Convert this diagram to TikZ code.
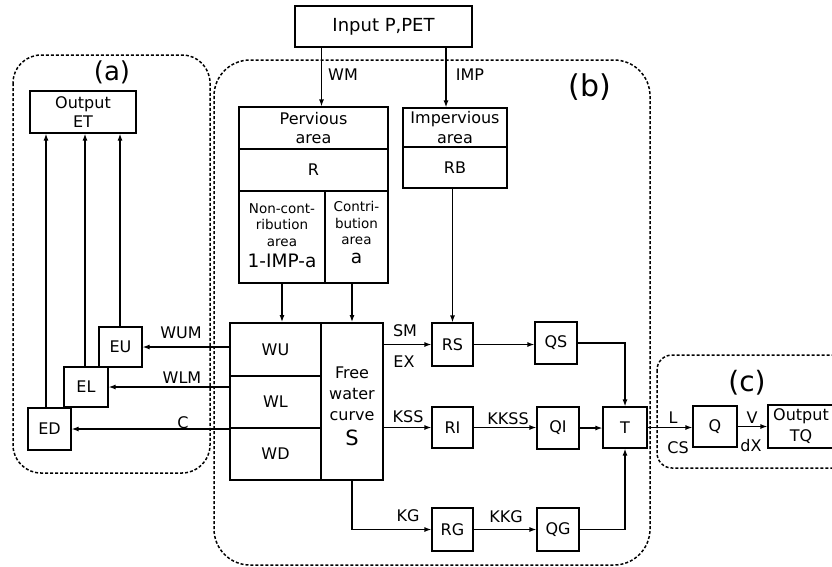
\documentclass[tikz,border=0pt]{standalone}
\usepackage{fontspec}
\setmainfont{DejaVu Sans}
\usetikzlibrary{arrows.meta,calc}
\newcommand\fsz[2]{\fontsize{#1}{#2}\selectfont}
\begin{document}
\begin{tikzpicture}[x=1pt,y=-1pt,
  box/.style={draw, line width=1.2pt, inner sep=0pt, align=center, font=\fsz{16}{19.5}},
  soil/.style={draw, line width=2pt, inner sep=0pt, align=center, font=\fsz{16}{19.5}},
  txt/.style={inner sep=0pt, align=center, font=\fsz{16}{19.5}},
  arr/.style={-{Latex[length=7pt,width=5pt]}, line width=1.2pt},
  grp/.style={draw, line width=1.5pt, dash pattern=on 3pt off 2pt}]
\clip (0,0) rectangle (832,566);
% group frames
\draw[grp, rounded corners=28pt] (13,55) rectangle (210,473);
\draw[grp, rounded corners=36pt] (214,60) rectangle (650,565);
\draw[grp, rounded corners=15pt] (657,355) rectangle (870,468);
\node[txt, font=\fsz{26}{26}] (la) at (112,72) {(a)};
\node[txt, font=\fsz{30}{30}] (lb) at (590,87) {(b)};
\node[txt, font=\fsz{28}{28}] (lc) at (747,383) {(c)};
% input
\node[box, minimum width=177pt, minimum height=41pt, font=\fsz{18}{22}] (inp) at (383.5,26.5) {Input P,PET};
% evaporation part
\node[box, minimum width=106pt, minimum height=42pt] (ET) at (83,112) {Output\\ET};
\node[box, minimum width=43pt, minimum height=40pt] (EU) at (120.5,347) {EU};
\node[box, minimum width=44pt, minimum height=40pt] (EL) at (86,387) {EL};
\node[box, minimum width=43pt, minimum height=42pt] (ED) at (49.5,429) {ED};
% pervious area
\node[box, minimum width=149pt, minimum height=42pt] (perv) at (313.5,128) {Pervious\\area};
\node[box, minimum width=149pt, minimum height=42pt] (R) at (313.5,170) {R};
\node[box, minimum width=86pt, minimum height=92pt] (NC) at (282,237) {};
\node[box, minimum width=63pt, minimum height=92pt] (CA) at (356.5,237) {};
\node[txt, font=\fsz{13.5}{16.5}] (NCt) at (282,225) {Non-cont-\\ribution\\area};
\node[txt, font=\fsz{18.5}{18.5}] (NCv) at (282,261) {1-IMP-a};
\node[txt, font=\fsz{13.5}{16.5}] (CAt) at (356.5,223) {Contri-\\bution\\area};
\node[txt, font=\fsz{18.5}{18.5}] (CAv) at (356.5,258) {a};
% impervious area
\node[box, minimum width=104pt, minimum height=39pt] (imp) at (455,127.5) {Impervious\\area};
\node[box, minimum width=104pt, minimum height=41pt] (RB) at (455,167.5) {RB};
% soil storages
\node[soil, minimum width=91pt, minimum height=53pt] (WU) at (275.5,349.5) {WU};
\node[soil, minimum width=91pt, minimum height=52pt] (WL) at (275.5,402) {WL};
\node[soil, minimum width=91pt, minimum height=52pt] (WD) at (275.5,454) {WD};
\node[soil, minimum width=62pt, minimum height=157pt] (FW) at (352,401.5) {};
\node[txt, font=\fsz{16}{21}] (FWt) at (352,394) {Free\\water\\curve};
\node[txt, font=\fsz{21}{21}] (FWs) at (352,438) {S};
% runoff routing
\node[box, minimum width=41pt, minimum height=43pt] (RS) at (452.5,344.5) {RS};
\node[box, minimum width=42pt, minimum height=42pt] (QS) at (556,343) {QS};
\node[box, minimum width=41pt, minimum height=41pt] (RI) at (452.5,427.5) {RI};
\node[box, minimum width=42pt, minimum height=42pt] (QI) at (558,428) {QI};
\node[box, minimum width=41pt, minimum height=43pt] (RG) at (452.5,529.5) {RG};
\node[box, minimum width=42pt, minimum height=43pt] (QG) at (558,529.5) {QG};
\node[box, minimum width=44pt, minimum height=41pt] (T) at (625,427.5) {T};
% channel routing
\node[box, minimum width=44pt, minimum height=41pt] (Q) at (715,426.5) {Q};
\node[box, minimum width=66pt, minimum height=43pt, font=\fsz{16}{21}] (TQ) at (801,426.5) {Output\\TQ};
% connectors
\draw[arr] ([xshift=-62pt]inp.south) -- ([xshift=-62pt]inp.south |- perv.north);
\draw[arr] ([xshift=62.5pt]inp.south) -- ([xshift=62.5pt]inp.south |- imp.north);
\node[txt] (tWM) at (343,75) {WM};
\node[txt] (tIMP) at (470,75) {IMP};
\draw[arr] (NC.south) -- (NC.south |- WU.north);
\draw[arr] (FW.north |- CA.south) -- (FW.north);
\draw[arr] (RS.north |- RB.south) -- (RS.north);
\draw[arr] (EU.east -| WU.west) -- (EU.east);
\draw[arr] (EL.east -| WL.west) -- (EL.east);
\draw[arr] (ED.east -| WD.west) -- (ED.east);
\node[txt] (tWUM) at (181,333) {WUM};
\node[txt] (tWLM) at (182,378) {WLM};
\node[txt] (tC) at (183,423) {C};
\draw[arr] ([xshift=-0.5pt]EU.north) -- ([xshift=-0.5pt]EU.north |- ET.south);
\draw[arr] ([xshift=-1pt]EL.north) -- ([xshift=-1pt]EL.north |- ET.south);
\draw[arr] ([xshift=-3.5pt]ED.north) -- ([xshift=-3.5pt]ED.north |- ET.south);
\draw[arr] (RS.west -| FW.east) -- (RS.west);
\node[txt] (tSM) at (405,331) {SM};
\node[txt] (tEX) at (404,362) {EX};
\draw[arr] (RS.east) -- (RS.east -| QS.west);
\draw[arr] (QS.east) -| (T.north);
\draw[arr] (RI.west -| FW.east) -- (RI.west);
\node[txt] (tKSS) at (408,417) {KSS};
\draw[arr] (RI.east) -- (RI.east -| QI.west);
\node[txt] (tKKSS) at (508,419) {KKSS};
\draw[arr] (QI.east) -- (QI.east -| T.west);
\draw[arr] (FW.south) |- (RG.west);
\node[txt] (tKG) at (408,516) {KG};
\draw[arr] (RG.east) -- (RG.east -| QG.west);
\node[txt] (tKKG) at (506,517) {KKG};
\draw[arr] (QG.east) -| (T.south);
\draw[arr] (T.east) -- (T.east -| Q.west);
\node[txt] (tL) at (673,418) {L};
\node[txt] (tCS) at (678,448) {CS};
\draw[arr] (Q.east) -- (Q.east -| TQ.west);
\node[txt] (tV) at (752,418) {V};
\node[txt] (tdX) at (751,446) {dX};
\end{tikzpicture}
\end{document}
